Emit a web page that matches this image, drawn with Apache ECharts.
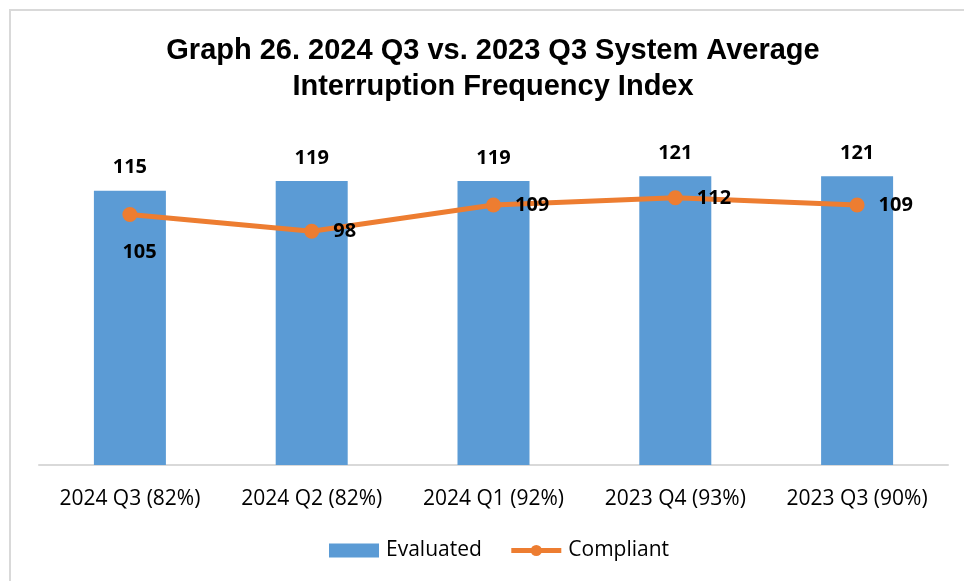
<!DOCTYPE html>
<html>
<head>
<meta charset="utf-8">
<script src="https://cdn.jsdelivr.net/npm/echarts@6/dist/echarts.min.js"></script>
<style>
html, body { margin: 0; padding: 0; background: #fff; }
#chart { width: 964px; height: 581px; }
</style>
</head>
<body>
<div id="chart"></div>
<script>
var categories = ['2024 Q3 (82%)', '2024 Q2 (82%)', '2024 Q1 (92%)', '2023 Q4 (93%)', '2023 Q3 (90%)'];
var evaluated = [115, 119, 119, 121, 121];
var compliant = [105, 98, 109, 112, 109];

var labelFont = '"Open Sans", "Noto Sans", sans-serif';

var myChart = echarts.init(document.getElementById('chart'));
var option = {
  backgroundColor: '#fff',
  graphic: [{
    type: 'rect',
    shape: { x: 10, y: 10, width: 1000, height: 600 },
    style: { fill: 'none', stroke: '#d9d9d9', lineWidth: 2 },
    silent: true
  }],
  title: {
    text: 'Graph 26. 2024 Q3 vs. 2023 Q3 System Average\nInterruption Frequency Index',
    left: 488,
    top: 28,
    textAlign: 'center',
    textStyle: {
      fontFamily: '"Liberation Sans", Arial, sans-serif',
      fontWeight: 'bold',
      fontSize: 29,
      lineHeight: 36,
      color: '#000'
    }
  },
  legend: {
    bottom: 15,
    left: 324,
    itemWidth: 50,
    itemHeight: 14,
    itemGap: 27,
    textStyle: { fontFamily: labelFont, fontSize: 21, color: '#000', padding: [0, 0, 0, 2] },
    data: [
      { name: 'Evaluated', icon: 'rect' },
      { name: 'Compliant', lineStyle: { width: 5 } }
    ]
  },
  grid: { left: 39, right: 16, top: 131, bottom: 116 },
  xAxis: {
    type: 'category',
    data: categories,
    axisLine: { lineStyle: { color: '#d9d9d9', width: 2 } },
    axisTick: { show: false },
    axisLabel: { interval: 0, fontFamily: labelFont, fontSize: 21, color: '#000', margin: 24 }
  },
  yAxis: {
    type: 'value',
    min: 0,
    max: 140,
    show: false,
    splitLine: { show: false }
  },
  series: [
    {
      name: 'Evaluated',
      type: 'bar',
      data: evaluated,
      barWidth: 72,
      itemStyle: { color: '#5b9bd5' },
      label: {
        show: true,
        position: 'top',
        distance: 13,
        fontFamily: labelFont,
        fontWeight: 'bold',
        fontSize: 20,
        color: '#000'
      }
    },
    {
      name: 'Compliant',
      type: 'line',
      data: compliant,
      symbol: 'circle',
      symbolSize: 15,
      lineStyle: { color: '#ed7d31', width: 5 },
      itemStyle: { color: '#ed7d31' },
      label: {
        show: true,
        position: 'right',
        distance: 14,
        fontFamily: labelFont,
        fontWeight: 'bold',
        fontSize: 20,
        color: '#000'
      },
      labelLayout: function (p) {
        if (p.dataIndex === 0) {
          return { x: p.rect.x, y: p.rect.y + 35, align: 'left' };
        }
      }
    }
  ]
};
myChart.setOption(option);
</script>
</body>
</html>
